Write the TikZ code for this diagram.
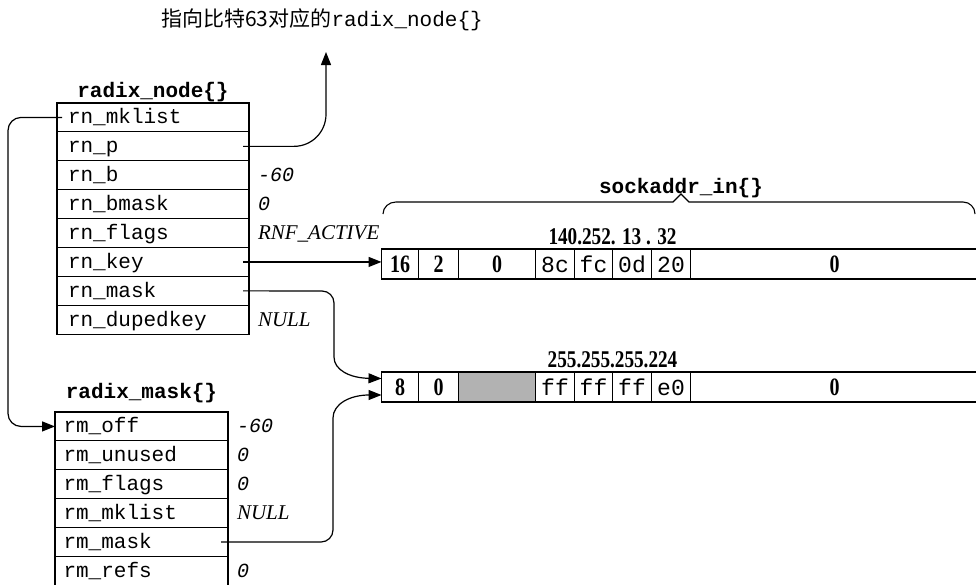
\documentclass[tikz,border=0pt]{standalone}
\usepackage{fontspec}
\setmainfont{Liberation Serif}
\setmonofont{Liberation Mono}
\newfontfamily\cjkfont{Noto Sans CJK SC}
\newfontfamily\numfamily[FakeStretch=0.8]{Liberation Serif}
\usetikzlibrary{arrows.meta,positioning}
\newcommand{\fieldfont}{\fontsize{21}{24}\selectfont\ttfamily}
\newcommand{\headfont}{\fontsize{21}{24}\selectfont\ttfamily\bfseries}
\newcommand{\ttvalfont}{\fontsize{20}{24}\selectfont\ttfamily\itshape}
\newcommand{\rmvalfont}{\fontsize{21}{24}\selectfont\itshape}
\newcommand{\numfont}{\fontsize{25}{28}\selectfont\numfamily\bfseries}
\newcommand{\bytefont}{\fontsize{23}{26}\selectfont\ttfamily}
\newcommand{\addrfont}{\fontsize{24}{26}\selectfont\numfamily\bfseries}
\newcommand{\notefont}{\fontsize{21}{24}\selectfont}

\begin{document}
\begin{tikzpicture}[
    x=1pt, y=-1pt,
    rnfield/.style={draw, line width=1.1pt, outer sep=0pt, inner xsep=11pt, inner ysep=0pt,
      minimum height=28.9pt, text width=170pt, align=left, text height=17pt, text depth=4pt,
      font=\fieldfont},
    rmfield/.style={rnfield, inner xsep=8.5pt, text width=156pt},
    ttval/.style={inner sep=0pt, outer sep=0pt, text height=17pt, text depth=4pt, font=\ttvalfont},
    rmval/.style={ttval, font=\rmvalfont},
    head/.style={inner sep=0pt, text depth=0pt, font=\headfont},
    bytecell/.style={draw, line width=1.1pt, outer sep=0pt, inner sep=0pt, minimum height=30pt,
      text height=17pt, text depth=1pt, minimum width=#1},
    addr/.style={inner sep=0pt, text depth=0pt, font=\addrfont},
    arrow/.style={-{Triangle[length=13pt,width=10pt]}, line width=1.2pt},
    brace/.style={line width=1.1pt}
  ]
    \useasboundingbox (0,0) rectangle (976,584);
    \node[font=\notefont] (pointer) at (322,20) {\cjkfont 指向比特63对应的{\ttfamily radix\_node\{\}}};
    \coordinate (uptip) at (326,52);

    \node[rnfield, anchor=north west] (rnmklist) at (57,103) {rn\_mklist};
    \node[rnfield, below=0pt of rnmklist] (rnp) {rn\_p};
    \node[rnfield, below=0pt of rnp] (rnb) {rn\_b};
    \node[rnfield, below=0pt of rnb] (rnbmask) {rn\_bmask};
    \node[rnfield, below=0pt of rnbmask] (rnflags) {rn\_flags};
    \node[rnfield, below=0pt of rnflags] (rnkey) {rn\_key};
    \node[rnfield, below=0pt of rnkey] (rnmask) {rn\_mask};
    \node[rnfield, below=0pt of rnmask] (rndupedkey) {rn\_dupedkey};
    \node[head, above=5pt of rnmklist] (rnhead) {radix\_node\{\}};
    \node[ttval, right=9pt of rnb] (rnbval) {-60};
    \node[ttval, right=9pt of rnbmask] (rnbmaskval) {0};
    \node[rmval, right=9pt of rnflags] (rnflagsval) {RNF\_ACTIVE};
    \node[rmval, right=9pt of rndupedkey] (rndupedkeyval) {NULL};

    \node[rmfield, anchor=north west] (rmoff) at (55,412) {rm\_off};
    \node[rmfield, below=0pt of rmoff] (rmunused) {rm\_unused};
    \node[rmfield, below=0pt of rmunused] (rmflags) {rm\_flags};
    \node[rmfield, below=0pt of rmflags] (rmmklist) {rm\_mklist};
    \node[rmfield, below=0pt of rmmklist] (rmmask) {rm\_mask};
    \node[rmfield, below=0pt of rmmask] (rmrefs) {rm\_refs};
    \node[head, above=13pt of rmoff] (rmhead) {radix\_mask\{\}};
    \node[ttval, right=9pt of rmoff] (rmoffval) {-60};
    \node[ttval, right=9pt of rmunused] (rmunusedval) {0};
    \node[ttval, right=9pt of rmflags] (rmflagsval) {0};
    \node[rmval, right=9pt of rmmklist] (rmmklistval) {NULL};
    \node[ttval, right=9pt of rmrefs] (rmrefsval) {0};

    \node[bytecell=37pt, font=\numfont, anchor=north west] (k16) at (381.5,249) {16};
    \node[bytecell=40pt, font=\numfont, right=0pt of k16] (k2) {2};
    \node[bytecell=77pt, font=\numfont, right=0pt of k2] (kzero) {0};
    \node[bytecell=39pt, font=\bytefont, right=0pt of kzero] (k8c) {8c};
    \node[bytecell=38pt, font=\bytefont, right=0pt of k8c] (kfc) {fc};
    \node[bytecell=39pt, font=\bytefont, right=0pt of kfc] (k0d) {0d};
    \node[bytecell=39pt, font=\bytefont, right=0pt of k0d] (k20) {20};
    \node[bytecell=288pt, font=\numfont, right=0pt of k20] (krest) {0};
    \node[addr, above=4pt of k0d.north west] (keyaddr) {140.252. 13 . 32};

    \node[bytecell=37pt, font=\numfont, anchor=north west] (m8) at (381.5,372) {8};
    \node[bytecell=40pt, font=\numfont, right=0pt of m8] (mzero) {0};
    \node[bytecell=77pt, fill=black!30, right=0pt of mzero] (mgap) {};
    \node[bytecell=39pt, font=\bytefont, right=0pt of mgap] (mff1) {ff};
    \node[bytecell=38pt, font=\bytefont, right=0pt of mff1] (mff2) {ff};
    \node[bytecell=39pt, font=\bytefont, right=0pt of mff2] (mff3) {ff};
    \node[bytecell=39pt, font=\bytefont, right=0pt of mff3] (me0) {e0};
    \node[bytecell=288pt, font=\numfont, right=0pt of me0] (mrest) {0};
    \node[addr, above=4pt of mff3.north west] (maskaddr) {255.255.255.224};

    \draw[brace] (383,214) to[out=90,in=180] (396,202) -- (673,202) -- (681,194) -- (689,202)
      -- (963,202) to[out=0,in=90] (975,214);
    \node[head] (sockhead) at (681,186) {sockaddr\_in\{\}};

    \coordinate (maskin) at ([yshift=8.5pt]m8.west);
    \coordinate (maskin2) at ([yshift=-8pt]m8.west);
    \draw[arrow, rounded corners=32pt] ([xshift=-6pt]rnp.east) -| (uptip);
    \draw[arrow, rounded corners=13pt] ([xshift=5pt]rnmklist.west) -- ++(-54,0) |- (rmoff.west);
    \draw[arrow] ([xshift=-6pt]rnkey.east) -- (rnkey.east -| k16.west);
    \draw[arrow, rounded corners=12pt] ([xshift=-6pt]rnmask.east) -- (334,291) -- (334,345)
      [sharp corners] .. controls (334,370) and (350,378) .. (maskin);
    \draw[arrow, rounded corners=12pt] ([xshift=-7pt]rmmask.east) -- (333,542) -- (333,430)
      [sharp corners] .. controls (333,404) and (350,395) .. (maskin2);
  \end{tikzpicture}
\end{document}
